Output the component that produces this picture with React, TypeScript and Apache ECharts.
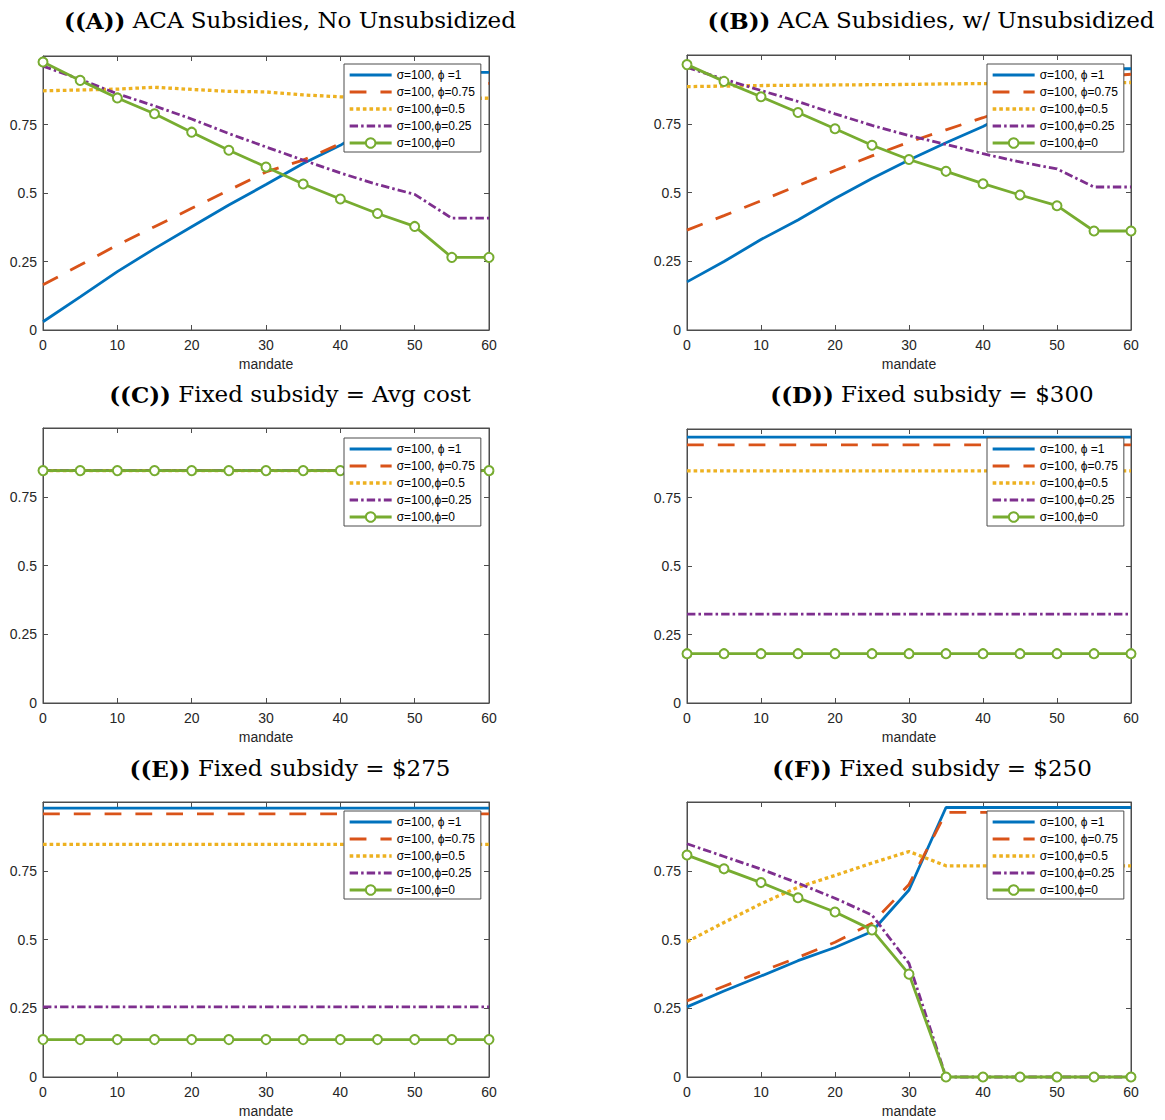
import React, { useEffect, useRef } from 'react';
import * as echarts from 'echarts';

// ---------- data ----------
const MANDATE = [0, 5, 10, 15, 20, 25, 30, 35, 40, 45, 50, 55, 60];
const SERIES_NAMES = ['σ=100, ϕ =1', 'σ=100, ϕ=0.75', 'σ=100,ϕ=0.5', 'σ=100,ϕ=0.25', 'σ=100,ϕ=0'];
const X_AXIS_NAME = 'mandate';

const PANEL_TAGS = ['((A))', '((B))', '((C))', '((D))', '((E))', '((F))'];
const PANEL_TITLES = [
  'ACA Subsidies, No Unsubsidized',
  'ACA Subsidies, w/ Unsubsidized',
  'Fixed subsidy = Avg cost',
  'Fixed subsidy = $300',
  'Fixed subsidy = $275',
  'Fixed subsidy = $250',
];

// Panel A
const A_PHI_1 = [0.03, 0.121, 0.213, 0.297, 0.377, 0.456, 0.531, 0.608, 0.674, 0.76, 0.85, 0.94, 0.94];
const A_PHI_075 = [0.165, 0.237, 0.31, 0.377, 0.444, 0.51, 0.577, 0.62, 0.68, 0.76, 0.83, 0.9, 0.9];
const A_PHI_05 = [0.873, 0.876, 0.879, 0.886, 0.878, 0.871, 0.869, 0.858, 0.851, 0.848, 0.846, 0.845, 0.846];
const A_PHI_025 = [0.963, 0.915, 0.862, 0.818, 0.77, 0.717, 0.668, 0.62, 0.573, 0.531, 0.495, 0.408, 0.408];
const A_PHI_0 = [0.978, 0.911, 0.847, 0.789, 0.722, 0.656, 0.595, 0.533, 0.478, 0.425, 0.378, 0.265, 0.265];

// Panel B
const B_PHI_1 = [0.175, 0.249, 0.329, 0.4, 0.478, 0.551, 0.618, 0.681, 0.74, 0.81, 0.88, 0.95, 0.95];
const B_PHI_075 = [0.363, 0.416, 0.47, 0.525, 0.58, 0.633, 0.683, 0.728, 0.772, 0.82, 0.87, 0.92, 0.93];
const B_PHI_05 = [0.885, 0.887, 0.889, 0.89, 0.891, 0.892, 0.893, 0.895, 0.896, 0.897, 0.898, 0.899, 0.9];
const B_PHI_025 = [0.955, 0.912, 0.871, 0.831, 0.786, 0.744, 0.707, 0.675, 0.641, 0.611, 0.586, 0.52, 0.52];
const B_PHI_0 = [0.965, 0.904, 0.848, 0.791, 0.732, 0.672, 0.62, 0.577, 0.532, 0.491, 0.452, 0.36, 0.36];

// Panel C
const C_PHI_1 = [0.845, 0.845, 0.845, 0.845, 0.845, 0.845, 0.845, 0.845, 0.845, 0.845, 0.845, 0.845, 0.845];
const C_PHI_075 = [0.845, 0.845, 0.845, 0.845, 0.845, 0.845, 0.845, 0.845, 0.845, 0.845, 0.845, 0.845, 0.845];
const C_PHI_05 = [0.845, 0.845, 0.845, 0.845, 0.845, 0.845, 0.845, 0.845, 0.845, 0.845, 0.845, 0.845, 0.845];
const C_PHI_025 = [0.845, 0.845, 0.845, 0.845, 0.845, 0.845, 0.845, 0.845, 0.845, 0.845, 0.845, 0.845, 0.845];
const C_PHI_0 = [0.845, 0.845, 0.845, 0.845, 0.845, 0.845, 0.845, 0.845, 0.845, 0.845, 0.845, 0.845, 0.845];

// Panel D
const D_PHI_1 = [0.97, 0.97, 0.97, 0.97, 0.97, 0.97, 0.97, 0.97, 0.97, 0.97, 0.97, 0.97, 0.97];
const D_PHI_075 = [0.942, 0.942, 0.942, 0.942, 0.942, 0.942, 0.942, 0.942, 0.942, 0.942, 0.942, 0.942, 0.942];
const D_PHI_05 = [0.847, 0.847, 0.847, 0.847, 0.847, 0.847, 0.847, 0.847, 0.847, 0.847, 0.847, 0.847, 0.847];
const D_PHI_025 = [0.324, 0.324, 0.324, 0.324, 0.324, 0.324, 0.324, 0.324, 0.324, 0.324, 0.324, 0.324, 0.324];
const D_PHI_0 = [0.18, 0.18, 0.18, 0.18, 0.18, 0.18, 0.18, 0.18, 0.18, 0.18, 0.18, 0.18, 0.18];

// Panel E
const E_PHI_1 = [0.978, 0.978, 0.978, 0.978, 0.978, 0.978, 0.978, 0.978, 0.978, 0.978, 0.978, 0.978, 0.978];
const E_PHI_075 = [0.957, 0.957, 0.957, 0.957, 0.957, 0.957, 0.957, 0.957, 0.957, 0.957, 0.957, 0.957, 0.957];
const E_PHI_05 = [0.846, 0.846, 0.846, 0.846, 0.846, 0.846, 0.846, 0.846, 0.846, 0.846, 0.846, 0.846, 0.846];
const E_PHI_025 = [0.255, 0.255, 0.255, 0.255, 0.255, 0.255, 0.255, 0.255, 0.255, 0.255, 0.255, 0.255, 0.255];
const E_PHI_0 = [0.136, 0.136, 0.136, 0.136, 0.136, 0.136, 0.136, 0.136, 0.136, 0.136, 0.136, 0.136, 0.136];

// Panel F
const F_PHI_1 = [0.255, 0.313, 0.367, 0.423, 0.471, 0.529, 0.68, 0.98, 0.98, 0.98, 0.98, 0.98, 0.98];
const F_PHI_075 = [0.277, 0.33, 0.383, 0.435, 0.49, 0.559, 0.7, 0.962, 0.962, 0.962, 0.962, 0.962, 0.962];
const F_PHI_05 = [0.492, 0.562, 0.63, 0.69, 0.733, 0.778, 0.82, 0.768, 0.768, 0.768, 0.768, 0.768, 0.768];
const F_PHI_025 = [0.848, 0.802, 0.756, 0.705, 0.65, 0.589, 0.413, 0, 0, 0, 0, 0, 0];
const F_PHI_0 = [0.807, 0.757, 0.707, 0.652, 0.6, 0.535, 0.374, 0, 0, 0, 0, 0, 0];

const PANEL_DATA = [
  [A_PHI_1, A_PHI_075, A_PHI_05, A_PHI_025, A_PHI_0],
  [B_PHI_1, B_PHI_075, B_PHI_05, B_PHI_025, B_PHI_0],
  [C_PHI_1, C_PHI_075, C_PHI_05, C_PHI_025, C_PHI_0],
  [D_PHI_1, D_PHI_075, D_PHI_05, D_PHI_025, D_PHI_0],
  [E_PHI_1, E_PHI_075, E_PHI_05, E_PHI_025, E_PHI_0],
  [F_PHI_1, F_PHI_075, F_PHI_05, F_PHI_025, F_PHI_0],
];

// ---------- layout & style ----------
const LAYOUT = [
  { left: 43, top: 56, width: 446, height: 274, tx: 290, ty: 20, lx: 344, ly: 64 },
  { left: 687, top: 55, width: 444, height: 275, tx: 931, ty: 20, lx: 987, ly: 64 },
  { left: 43, top: 428, width: 446, height: 275, tx: 290, ty: 394, lx: 344, ly: 438 },
  { left: 687, top: 429, width: 444, height: 274, tx: 932, ty: 394, lx: 987, ly: 438 },
  { left: 43, top: 802, width: 446, height: 275, tx: 290, ty: 768, lx: 344, ly: 811 },
  { left: 687, top: 802, width: 444, height: 275, tx: 932, ty: 768, lx: 987, ly: 811 },
];

const COLORS = ['#0072BD', '#D95319', '#EDB120', '#7E2F8E', '#77AC30'];
const LINE_TYPES: any[] = ['solid', [6, 5], [1.1, 0.9], [3, 1.1, 0.9, 1.1], 'solid'];
const LINE_WIDTHS = [2.8, 2.8, 3.3, 2.8, 2.8];
const AX = '#4d4d4d';
const TXT = '#262626';
const SANS = '"Liberation Sans", Arial, sans-serif';
const SERIF = '"DejaVu Serif", serif';

function dashOf(k: number) {
  const t = LINE_TYPES[k];
  const w = LINE_WIDTHS[k];
  return Array.isArray(t) ? t.map((d: number) => d * w) : t;
}

function buildOption() {
  const grid: any[] = [];
  const xAxis: any[] = [];
  const yAxis: any[] = [];
  const series: any[] = [];
  const legend: any[] = [];
  const graphic: any[] = [];

  LAYOUT.forEach((L, i) => {
    grid.push({
      left: L.left, top: L.top, width: L.width, height: L.height,
      show: true, borderColor: AX, borderWidth: 1, backgroundColor: '#fff',
    });
    const tick = { show: true, inside: true, length: 5, lineStyle: { color: AX, width: 1 } };
    xAxis.push({
      type: 'value', gridIndex: i, min: 0, max: 60, interval: 10, position: 'bottom',
      axisLine: { show: true, onZero: false, lineStyle: { color: AX, width: 1 } },
      axisTick: tick,
      axisLabel: { margin: 8, color: TXT, fontSize: 14, fontFamily: SANS },
      splitLine: { show: false },
      name: X_AXIS_NAME, nameLocation: 'middle', nameGap: 27,
      nameTextStyle: { color: TXT, fontSize: 14, fontFamily: SANS },
    });
    xAxis.push({
      type: 'value', gridIndex: i, min: 0, max: 60, interval: 10, position: 'top',
      axisLine: { show: true, onZero: false, lineStyle: { color: AX, width: 1 } },
      axisTick: tick, axisLabel: { show: false }, splitLine: { show: false },
    });
    yAxis.push({
      type: 'value', gridIndex: i, min: 0, max: 1, interval: 0.25, position: 'left',
      axisLine: { show: true, onZero: false, lineStyle: { color: AX, width: 1 } },
      axisTick: tick,
      axisLabel: {
        margin: 6, color: TXT, fontSize: 14, fontFamily: SANS,
        formatter: (v: number) => (v === 1 ? '' : String(v)),
      },
      splitLine: { show: false },
    });
    yAxis.push({
      type: 'value', gridIndex: i, min: 0, max: 1, interval: 0.25, position: 'right',
      axisLine: { show: true, onZero: false, lineStyle: { color: AX, width: 1 } },
      axisTick: tick, axisLabel: { show: false }, splitLine: { show: false },
    });

    PANEL_DATA[i].forEach((vals, k) => {
      const isMarker = k === 4;
      series.push({
        type: 'line',
        name: SERIES_NAMES[k],
        xAxisIndex: 2 * i,
        yAxisIndex: 2 * i,
        data: MANDATE.map((m, j) => [m, vals[j]]),
        clip: false,
        symbol: isMarker ? 'emptyCircle' : 'none',
        symbolSize: 9,
        showSymbol: isMarker,
        lineStyle: { color: COLORS[k], width: LINE_WIDTHS[k], type: dashOf(k), cap: 'butt' },
        itemStyle: { color: COLORS[k], borderColor: COLORS[k], borderWidth: 2 },
        z: 2 + k * 0.01,
        silent: true,
      });
    });

    legend.push({
      left: L.lx, top: L.ly, orient: 'vertical',
      data: SERIES_NAMES.map((n, k) => {
        const item: any = {
          name: n,
          lineStyle: { width: LINE_WIDTHS[k], type: dashOf(k), color: COLORS[k], cap: 'butt' },
        };
        if (k !== 4) item.itemStyle = { opacity: 0 };
        return item;
      }),
      itemWidth: 42, itemHeight: 12, itemGap: 5,
      padding: [5, 6, 3, 4],
      borderColor: AX, borderWidth: 1, borderRadius: 0, backgroundColor: '#fff',
      textStyle: { color: '#000', fontSize: 12, fontFamily: SANS },
      selectedMode: false,
    });

    graphic.push({
      type: 'text', x: L.tx, y: L.ty, z: 10,
      style: {
        text: `{b|${PANEL_TAGS[i]}} ${PANEL_TITLES[i]}`,
        fontFamily: SERIF, fontSize: 23, fill: '#000',
        align: 'center', verticalAlign: 'middle',
        rich: { b: { fontFamily: SERIF, fontSize: 23, fontWeight: 'bold', fill: '#000' } },
      },
    });
  });

  return { animation: false, backgroundColor: '#fff', grid, xAxis, yAxis, series, legend, graphic };
}

export default function App() {
  const ref = useRef<HTMLDivElement>(null);
  useEffect(() => {
    if (!ref.current) return;
    const chart = echarts.init(ref.current, null, { renderer: 'svg' });
    chart.setOption(buildOption() as any);
    return () => chart.dispose();
  }, []);
  return (
    <div
      ref={ref}
      style={{ position: 'absolute', left: 0, top: 0, width: 1165, height: 1120, background: '#fff' }}
    />
  );
}
